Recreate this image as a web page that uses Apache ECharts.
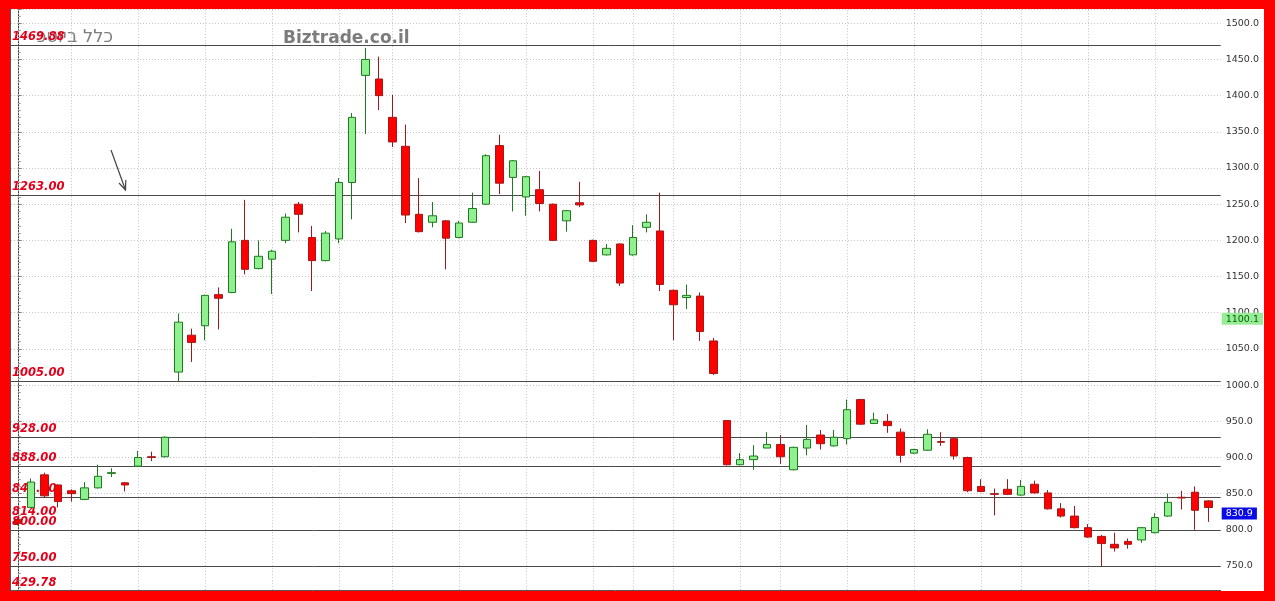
<!DOCTYPE html>
<html>
<head>
<meta charset="utf-8">
<title>כלל ביוטכ</title>
<script src="https://cdn.jsdelivr.net/npm/echarts@6/dist/echarts.min.js"></script>
<style>
  html, body { margin: 0; padding: 0; background: #fff; }
  #chart { width: 1275px; height: 601px; }
</style>
</head>
<body>
<div id="chart"></div>
<script>
// Weekly candles (agorot)
const opens  = [814, 831, 876, 862, 854, 842, 858, 878, 865, 888,
                901, 901, 1018, 1069, 1082, 1125, 1128, 1200, 1161, 1174,
                1200, 1250, 1204, 1172, 1202, 1280, 1428, 1423, 1370, 1330,
                1236, 1225, 1227, 1204, 1225, 1250, 1331, 1287, 1260, 1270,
                1250, 1227, 1252, 1200, 1180, 1195, 1180, 1218, 1213, 1131,
                1121, 1123, 1061, 951, 890, 897, 913, 918, 883, 913,
                931, 916, 926, 980, 947, 950, 935, 906, 910, 922,
                926, 900, 860, 850, 856, 848, 863, 851, 829, 819,
                803, 791, 780, 784, 786, 796, 819, 845, 852, 840];
const closes = [809, 866, 847, 839, 850, 858, 874, 879, 862, 900,
                900, 928, 1087, 1059, 1124, 1120, 1198, 1160, 1178, 1185,
                1232, 1236, 1172, 1210, 1280, 1370, 1450, 1400, 1336, 1235,
                1212, 1234, 1203, 1224, 1244, 1317, 1279, 1310, 1288, 1251,
                1200, 1241, 1249, 1171, 1189, 1141, 1204, 1225, 1139, 1111,
                1124, 1074, 1016, 890, 897, 902, 918, 901, 914, 925,
                919, 928, 966, 946, 952, 944, 903, 911, 932, 921,
                902, 854, 853, 849, 849, 860, 851, 829, 819, 803,
                790, 781, 775, 780, 803, 817, 838, 844, 827, 830.9];
const lows   = [806, 830, 844, 831, 839, 841, 857, 873, 853, 887,
                895, 900, 1005, 1032, 1062, 1077, 1127, 1153, 1160, 1126,
                1196, 1211, 1130, 1171, 1196, 1229, 1347, 1380, 1329, 1224,
                1211, 1218, 1160, 1203, 1224, 1249, 1264, 1240, 1234, 1240,
                1199, 1212, 1246, 1170, 1179, 1137, 1179, 1211, 1130, 1062,
                1105, 1061, 1014, 889, 889, 883, 913, 891, 882, 903,
                911, 915, 918, 945, 946, 934, 893, 905, 909, 916,
                897, 852, 852, 820, 848, 847, 850, 828, 817, 802,
                789, 750, 770, 774, 782, 795, 818, 828, 800, 811];
const highs  = [816, 871, 879, 863, 856, 866, 890, 885, 866, 909,
                908, 929, 1099, 1078, 1125, 1135, 1216, 1256, 1200, 1187,
                1237, 1253, 1220, 1213, 1286, 1376, 1466, 1454, 1401, 1360,
                1286, 1253, 1228, 1227, 1266, 1319, 1346, 1311, 1289, 1296,
                1251, 1242, 1281, 1201, 1195, 1196, 1221, 1236, 1266, 1132,
                1139, 1128, 1065, 951, 906, 917, 935, 931, 915, 945,
                938, 938, 980, 981, 962, 960, 940, 912, 939, 935,
                928, 901, 870, 857, 870, 869, 868, 855, 837, 833,
                808, 793, 796, 788, 804, 823, 850, 854, 860, 841];

// Candle indices that open a new month (vertical grid)
const monthStarts = [0, 4, 9, 14, 19, 24, 28, 33, 38, 43, 46, 49, 54, 57, 62, 67, 72, 75, 80, 85];

// Horizontal support / resistance levels
const levels = [1469.88, 1263.00, 1005.00, 928.00, 888.00, 845.00, 800.00, 750.00];
const levelsNoLine = [814.00];
const offScaleLevel = 429.78;

// Last values shown on the price axis
const indicatorLast = 1100.1;
const lastClose = closes[closes.length - 1];

const candles = opens.map((o, i) => [i, o, closes[i], lows[i], highs[i]]);

const levelFont = {
  color: '#e3001b', fontFamily: 'DejaVu Sans', fontStyle: 'italic',
  fontWeight: 'bold', fontSize: 11.5
};

const levelLabel = {
  show: true, position: 'insideStartTop', distance: [1, 2],
  formatter: p => p.value.toFixed(2), ...levelFont
};

const hiddenLine = { color: 'rgba(0,0,0,0)', width: 0 };

const priceBox = (bg, fg) => ({
  show: true, position: 'end', distance: 1, verticalAlign: 'top',
  formatter: p => p.value.toFixed(1),
  color: fg, backgroundColor: bg,
  fontFamily: 'DejaVu Sans', fontSize: 9.5, lineHeight: 11, padding: [1, 4, 0, 4]
});

const chart = echarts.init(document.getElementById('chart'), null, { renderer: 'canvas' });

chart.setOption({
  backgroundColor: '#ffffff',
  animation: false,
  grid: {
    left: 11, top: 8.8, width: 1209.7, height: 593.4,
    containLabel: false, outerBoundsMode: 'none'
  },
  xAxis: {
    type: 'value', min: -0.508, max: 89.922, show: false,
    splitLine: { show: false }
  },
  yAxis: {
    type: 'value', position: 'right', min: 700, max: 1520, interval: 50,
    axisLine: { show: true, lineStyle: { color: '#3a3a3a', width: 1 } },
    axisTick: { show: true, length: 4, lineStyle: { color: '#808080' } },
    minorTick: { show: true, splitNumber: 5, length: 3, lineStyle: { color: '#9a9a9a' } },
    axisLabel: {
      color: '#333', fontFamily: 'DejaVu Sans', fontSize: 9.5, margin: 5,
      showMinLabel: false, showMaxLabel: false, formatter: v => v.toFixed(1)
    },
    splitLine: { show: true, lineStyle: { color: '#c4c4c4', type: [1, 2], width: 1 } }
  },
  series: [
    {
      // month verticals and level lines
      type: 'line', data: [], silent: true, z: 3,
      markLine: {
        z: 3, silent: true, symbol: ['none', 'none'], animation: false,
        data: [
          ...monthStarts.map(i => ({
            xAxis: i, label: { show: false },
            lineStyle: { color: '#c4c4c4', type: [1, 2], width: 1 }
          })),
          ...levels.map(v => ({
            yAxis: v, label: levelLabel,
            lineStyle: { color: '#4a4a4a', type: 'solid', width: 1 }
          })),
          ...levelsNoLine.map(v => ({
            yAxis: v, label: levelLabel, lineStyle: hiddenLine
          }))
        ]
      }
    },
    {
      type: 'candlestick', data: candles, barWidth: 8, z: 5,
      itemStyle: {
        color: '#8ef08e', borderColor: '#1f7a1f',
        color0: '#ff0000', borderColor0: '#a31818',
        borderWidth: 1
      }
    },
    {
      // price boxes on the axis
      type: 'line', data: [], silent: true, z: 8,
      markLine: {
        z: 8, silent: true, symbol: ['none', 'none'], animation: false,
        data: [
          { yAxis: indicatorLast, lineStyle: hiddenLine, label: priceBox('#98ec98', '#006400') },
          { yAxis: lastClose, lineStyle: hiddenLine, label: priceBox('#0a0ae6', '#ffffff') }
        ]
      }
    }
  ],
  graphic: [
    { type: 'text', z: 1, right: 1275 - 113, top: 28,
      style: { text: 'כלל ביוטכ', fill: '#808080', font: '18px "DejaVu Sans"' } },
    { type: 'text', z: 1, left: 283, top: 30,
      style: { text: 'Biztrade.co.il', fill: '#7c7c7c', font: 'bold 17px "DejaVu Sans"' } },
    { type: 'text', z: 4, left: 12, top: 577,
      style: { text: offScaleLevel.toFixed(2), fill: levelFont.color,
               font: 'italic bold 11.5px "DejaVu Sans"' } },
    // annotation arrow
    { type: 'line', z: 4, shape: { x1: 111, y1: 150, x2: 125.5, y2: 190 },
      style: { stroke: '#444', lineWidth: 1.2 } },
    { type: 'polyline', z: 4, shape: { points: [[119, 183], [125.5, 190], [125.8, 180]] },
      style: { stroke: '#444', lineWidth: 1.2, fill: null } },
    // plot frame
    { type: 'line', z: 50, shape: { x1: 10.5, y1: 9, x2: 10.5, y2: 591 },
      style: { stroke: '#555', lineWidth: 1 } },
    { type: 'line', z: 50, shape: { x1: 10, y1: 590.5, x2: 1221, y2: 590.5 },
      style: { stroke: '#555', lineWidth: 1 } },
    // red frame
    { type: 'rect', z: 100, shape: { x: 0, y: 0, width: 1275, height: 9 }, style: { fill: '#ff0000' } },
    { type: 'rect', z: 100, shape: { x: 0, y: 0, width: 10, height: 601 }, style: { fill: '#ff0000' } },
    { type: 'rect', z: 100, shape: { x: 1264, y: 0, width: 11, height: 601 }, style: { fill: '#ff0000' } },
    { type: 'rect', z: 100, shape: { x: 0, y: 591, width: 1275, height: 10 }, style: { fill: '#ff0000' } }
  ]
});
</script>
</body>
</html>
